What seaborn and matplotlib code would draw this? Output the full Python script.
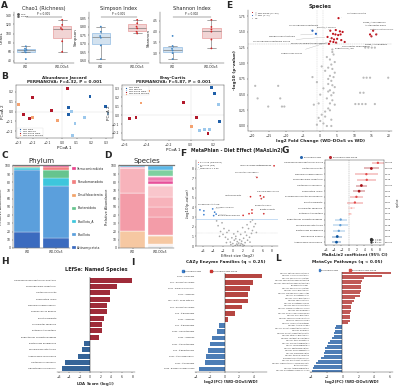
import numpy as np
import pandas as pd
import matplotlib
matplotlib.use("Agg")
import matplotlib.pyplot as plt
from matplotlib.lines import Line2D
from matplotlib.patches import Patch
import seaborn as sns

# ------------------------------------------------------------------ DATA
groups = ["WD", "WD-DOx5"]
chao1_wd = [44, 58.7, 62, 64, 66.7, 72]
chao1_dox = [60, 83, 109, 112, 119, 130]
simpson_wd = [0.61, 0.69, 0.735, 0.745, 0.77, 0.80]
simpson_dox = [0.76, 0.77, 0.79, 0.80, 0.82, 0.84]
shannon_wd = [2.72, 3.0, 3.12, 3.2, 3.33, 3.8]
shannon_dox = [3.22, 3.63, 4.0, 4.1, 4.22, 4.55]

pcoa_groups = ["WD Male", "WD Female", "WD-DOx5 Male", "WD-DOx5 Female"]
jac_group = ["WD-DOx5 Male"]*5 + ["WD-DOx5 Female"]*3 + ["WD Male"]*4 + ["WD Female"]*5
jac_pc1 = [-0.20, -0.262, -0.222, -0.073, 0.038, -0.296, -0.20, -0.029,
           0.193, 0.044, 0.298, 0.044, 0.067, 0.089, 0.156, 0.071, 0.316]
jac_pc2 = [0.143, -0.033, -0.067, 0.007, 0.233, 0.073, -0.06, -0.087,
           0.15, 0.043, 0.05, -0.027, 0.0, -0.117, -0.06, -0.243, -0.023]
bc_group = ["WD-DOx5 Female", "WD-DOx5 Male", "WD-DOx5 Female", "WD-DOx5 Male", "WD-DOx5 Male",
            "WD-DOx5 Male", "WD-DOx5 Female", "WD Female", "WD-DOx5 Male",
            "WD Male", "WD Male", "WD Female", "WD Male", "WD Female", "WD Female"]
bc_pc1 = [-0.384, -0.065, -0.449, -0.552, -0.493, 0.053, 0.009, 0.082, 0.156,
          0.186, 0.215, 0.253, 0.259, 0.127, 0.171]
bc_pc2 = [0.272, 0.14, 0.137, -0.04, -0.025, -0.025, -0.132, -0.169, -0.204,
          0.309, 0.247, 0.118, -0.068, -0.158, -0.158]

phyla = ["Actinomycetota", "Bacillota", "Bacillota_A", "Bacteroidota",
         "Desulfobacterota", "Pseudomonadota", "Verrucomicrobiota"]
phylum_wd = [19, 76, 2.5, 0.8, 0.2, 0.8, 0.7]
phylum_dox = [12, 63, 10, 10, 0.5, 2.5, 2]

species_d = ["Other", "Unclassified", "Dubosiella newyorkensis", "Romboutsia ilealis",
             "Faecalibaculum rodentium", "Lactococcus lactis", "Turicibacter sanguinis",
             "Ligilactobacillus murinus", "Blautia producta", "Akkermansia muciniphila",
             "Enterocloster bolteae", "Ruminococcus gnavus", "Muribaculum intestinale",
             "Lachnospiraceae bacterium"]
species_wd = [0, 0, 21, 0, 46, 0, 30, 0, 0, 1.5, 0, 0, 0, 1.5]
species_dox = [3, 2, 9, 2, 22, 12, 12, 14, 2, 4, 4, 2, 7, 5]

vol_up_x = [5.4, 3.0, 4.6, 5.8, 6.6, 3.8, 4.5, 5.3, 6.0, 2.2, 3.4, 4.1, 5.0, 6.2, 3.0, 3.9,
            4.7, 7.2, 2.6, 15.5, 14.6, 16.4, 15.0]
vol_up_y = [1.72, 1.52, 1.53, 1.51, 1.50, 1.47, 1.46, 1.45, 1.46, 1.42, 1.40, 1.38, 1.39,
            1.37, 1.35, 1.34, 1.33, 1.34, 1.31, 1.52, 1.46, 1.46, 1.43]
vol_dn_x = [-2.2, -1.2]
vol_dn_y = [1.52, 1.47]
vol_ns_x = [-18.9, -12.2, -18.2, -11.6, -15.1, -11.1, -10.4, -2.2, 19.9, 12.7, 13.6, 14.6,
            11.7, 12.7, 10.3, 11.3, 12.3, 13.3, 16.0, 13.2, 14.1, 15.1, 16.0,
            3.6, 3.95, 2.9, 3.3, 2.4, 3.6, 4.3, 2.9, 3.95, 3.3, 2.4, 3.6, 4.3, 2.9, 3.95, 3.3,
            2.0, 3.6, 2.9, 4.3, -1.8, -0.4, 2.4, 1.5, 0.5, -0.4, 0.07, 1.0, 2.0, 3.3, -0.9,
            1.0, 2.4, 0.5, 1.5, 3.6, 2.0, 4.3, 0.07, 2.9, 1.5, -0.9, 3.3, 2.4]
vol_ns_y = [0.64, 0.64, 0.44, 0.44, 0.31, 0.31, 0.31, 0.78, 0.77, 0.77, 0.77, 0.77,
            0.53, 0.53, 0.35, 0.35, 0.35, 0.35, 0.35, 1.25, 1.25, 1.25, 1.25,
            1.22, 1.14, 1.06, 0.98, 0.93, 0.91, 0.85, 0.80, 0.78, 0.72, 0.67, 0.65, 0.62, 0.57,
            0.53, 0.49, 0.44, 0.41, 0.36, 0.34, 0.34, 0.36, 0.28, 0.23, 0.18, 0.13, 0.08, 0.04,
            0.0, 0.0, 0.02, 0.6, 0.75, 0.95, 0.88, 1.18, 1.1, 1.02, 0.5, 0.25, 0.15, 0.7,
            0.1, 0.55]

f_up_x = [8.4, 4.9, 3.6, 5.6, 6.3, 5.8, 3.9, 3.9, 3.3, 2.1, 6.3]
f_up_y = [8.3, 7.1, 5.1, 5.2, 5.07, 4.9, 3.74, 3.4, 3.34, 3.17, 3.34]
f_dn_x = [-6.7, -5.9, -3.7, -3.9, -4.1, -3.4, -5.9]
f_dn_y = [3.74, 3.64, 3.5, 3.14, 3.84, 3.3, 3.24]
f_ns_x = [0.5, 1, 1.5, 0.8, 1.2, 2, 0, -0.5, 2.5, 1.8, 0.3, -1, 3, 2.2, -1.5, 3.4, 0.9, 1.4,
          -0.2, 2.8, -2, 3.8, -1.2, 2.5, 4, -2.5, 0.6, 1.6, 3.2, -1.8, 4.3, -3, 2.9, -2.2, 3.6,
          4.6, -0.8, 1.0, -3.3, 4.0, 2.0, 0.2, -0.4, 1.7, 2.3, -1.3, 3.5, 0.6, -2.7, 4.8]
f_ns_y = [0.05, 0.1, 0.08, 0.2, 0.3, 0.15, 0.25, 0.4, 0.35, 0.5, 0.6, 0.7, 0.6, 0.8, 0.9, 0.9,
          0.45, 0.65, 0.85, 1.1, 1.2, 1.3, 1.4, 1.45, 1.6, 1.5, 1.0, 1.2, 1.8, 1.8, 2.0, 2.1,
          2.2, 2.4, 2.5, 2.3, 1.6, 1.5, 2.6, 2.7, 1.9, 1.25, 0.15, 0.25, 0.05, 0.35, 0.4, 0.75,
          1.0, 1.4]

g_species = ["Lachnospiraceae bacterium NSJ-29", "Lactococcus lactis", "Dubosiella newyorkensis",
             "Faecalibaculum rodentium", "Lactobacillus johnsonii", "Romboutsia ilealis",
             "Pseudoflavonifractor phocaeensis", "Blautia producta", "Turicibacter sanguinis",
             "Enterocloster bolteae", "Eubacterium coprostanoligenes", "Muribaculum intestinale",
             "Bacteroides acidifaciens", "Duncaniella dubosii", "Akkermansia muciniphila"]
g_coef = [7.5, 5.8, 4.5, 4.6, 3.2, 2.6, 1.9, 1.5, 0.6, 0.2, -2.2, -2.3, -2.7, -3.1, -3.3]
g_ci = [1.5, 2.0, 3.0, 2.5, 1.5, 1.5, 1.8, 2.0, 1.0, 0.6, 1.6, 2.0, 1.5, 1.3, 1.2]
g_qval = [0.08, 0.03, 0.10, 0.12, 0.01, 0.04, 0.09, 0.15, 0.30, 0.45, 0.14, 0.20, 0.06, 0.02, 0.01]
g_ptext = ["2.1e-03", "5.3e-04", "0.012", "0.018", "1.0e-04", "0.004", "0.010", "0.031",
           "0.210", "0.420", "0.025", "0.048", "0.006", "0.002", "8.0e-04"]

h_species = ["Lachnospiraceae bacterium NK4A136", "Faecalibaculum rodentium", "Lactococcus lactis",
             "Romboutsia ilealis", "Dubosiella newyorkensis", "Ruminococcus gnavus",
             "Blautia producta", "Turicibacter sanguinis", "Enterocloster bolteae",
             "Eubacterium coprostanoligenes", "Bacteroides acidifaciens", "Muribaculum intestinale",
             "Akkermansia muciniphila", "Lactobacillus johnsonii", "Ligilactobacillus murinus"]
h_lda = [7.9, 5.0, 3.8, 3.7, 3.1, 3.1, 2.6, 2.3, 2.3, 1.7, -1.1, -1.5, -2.3, -4.8, -5.4]

i_families = ["GH13 - α-amylase", "GT2 - glycosyltransferase", "GT51 - murein polymerase",
              "GH73 - lysozyme", "CE1 - acetyl xylan esterase", "GT4 - glycosyltransferase",
              "GH3 - β-glucosidase", "GH23 - lysozyme", "GH1 - β-glucosidase",
              "GH36 - α-galactosidase", "GH25 - lysozyme", "GH42 - β-galactosidase",
              "GH2 - β-galactosidase", "GH20 - β-hexosaminidase", "GH43 - β-xylosidase",
              "GT35 - glycogen phosphorylase"]
i_lfc = [5.2, 4.0, 3.5, 3.2, 3.2, 2.4, 1.4, 0.45, -0.8, -1.0, -1.8, -2.0, -2.3, -2.6, -2.7, -3.5]

l_pathways = ["PWY-6471: peptidoglycan biosynthesis IV", "PWY-5103: L-isoleucine biosynthesis III",
              "PWY-7219: adenosine ribonucleotides", "PWY-6386: UDP-N-acetylmuramoyl-pentapeptide",
              "PWY-6387: UDP-N-acetylmuramoyl-pentapeptide II", "PEPTIDOGLYCANSYN-PWY",
              "PWY-7221: guanosine ribonucleotides", "PWY-5097: L-lysine biosynthesis VI",
              "PWY-6122: 5-aminoimidazole ribonucleotide", "PWY-6277: superpathway of AIR",
              "PWY-2942: L-lysine biosynthesis III", "PWY-5686: UMP biosynthesis I",
              "PWY-7229: superpathway of purine", "PWY-6700: queuosine biosynthesis I",
              "PWY-6151: S-adenosyl-L-methionine salvage", "PWY-6609: adenine salvage III",
              "PWY-7199: pyrimidine deoxyribonucleosides", "PWY-6703: preQ0 biosynthesis",
              "PWY-5667: CDP-diacylglycerol biosynthesis", "PWY0-1319: CDP-diacylglycerol II",
              "PWY-5973: cis-vaccenate biosynthesis", "PWY-6897: thiamine salvage II",
              "PWY-7111: pyruvate fermentation to isobutanol", "PWY-1042: glycolysis IV",
              "PWY-5100: pyruvate fermentation to acetate", "PWY-6305: putrescine biosynthesis IV",
              "PWY-5505: L-glutamate and L-glutamine", "PWY-6737: starch degradation V",
              "PWY-7237: myo-inositol degradation III", "PWY-621: sucrose degradation III",
              "PWY-6317: galactose degradation I", "PWY-5384: sucrose degradation IV",
              "PWY-7456: mannan degradation", "PWY-6527: stachyose degradation",
              "GLUCUROCAT-PWY: β-D-glucuronide", "PWY-7242: D-fructuronate degradation",
              "PWY-6507: 4-deoxy-L-threo-hex-4-enopyranuronate", "GALACTUROCAT-PWY",
              "PWY-2723: trehalose degradation V", "PWY-7345: superpathway of anaerobic sucrose"]
l_lfc = [6.2, 5.0, 2.75, 2.5, 2.4, 2.4, 2.3, 2.3, 2.2, 2.2, 1.6, 1.5, 1.2, 1.1, 1.1, 1.05,
         1.0, 1.0, 0.9, 0.9, 0.7,
         -0.8, -0.9, -1.0, -1.1, -1.1, -1.3, -1.6, -1.8, -1.9, -2.2, -2.2, -2.3, -2.3, -2.7,
         -3.1, -3.3, -3.6, -3.7, -3.9]

# ------------------------------------------------------------------ STYLE
W, H = 400, 387
sns.set_theme(style="ticks")
plt.rcParams['font.family'] = ['DejaVu Sans']
plt.rcParams.update({
    'font.size': 2.4, 'axes.labelsize': 3.0, 'axes.titlesize': 3.8,
    'xtick.labelsize': 2.2, 'ytick.labelsize': 2.2, 'legend.fontsize': 2.0,
    'axes.linewidth': 0.3, 'xtick.major.width': 0.3, 'ytick.major.width': 0.3,
    'xtick.major.size': 1.0, 'ytick.major.size': 1.0,
    'xtick.major.pad': 0.8, 'ytick.major.pad': 0.8, 'axes.labelpad': 1.0,
    'axes.titlepad': 1.5, 'axes.edgecolor': '#333333', 'lines.linewidth': 0.4,
})

C_WD_FILL, C_DOX_FILL = "#cfe2f3", "#f6cfcf"
C_WD_EDGE, C_DOX_EDGE = "#7fb0e0", "#e58a8a"
C_WD_PT, C_DOX_PT = "#3d85c6", "#d62728"

fig = plt.figure(figsize=(W / 100, H / 100), dpi=100)
fig.patch.set_facecolor("white")


def add(x0, y0, x1, y1):
    return fig.add_axes([x0 / W, 1 - y1 / H, (x1 - x0) / W, (y1 - y0) / H])


def letter(x, y, s):
    fig.text(x / W, 1 - y / H, s, fontsize=6.5, fontweight='bold', va='top', ha='left')


# ------------------------------------------------------------------ A
def alpha_panel(ax, wd, dox, title, ylab, ptxt):
    df = pd.DataFrame({'group': [groups[0]] * len(wd) + [groups[1]] * len(dox),
                       'val': wd + dox})
    sns.boxplot(data=df, x='group', y='val', hue='group', palette=[C_WD_FILL, C_DOX_FILL],
                width=0.5, showfliers=False, linewidth=0.4, linecolor="#666666",
                legend=False, ax=ax)
    for patch, ec in zip(ax.patches, [C_WD_EDGE, C_DOX_EDGE]):
        patch.set_edgecolor(ec)
    sns.swarmplot(data=df, x='group', y='val', hue='group', palette=[C_WD_PT, C_DOX_PT],
                  size=1.3, legend=False, ax=ax)
    lo, hi = min(wd + dox), max(wd + dox)
    rng = hi - lo
    yb = hi + rng * 0.08
    ax.plot([0, 0, 1, 1], [yb - rng * 0.02, yb, yb, yb - rng * 0.02], color="#333333", lw=0.3)
    ax.text(0.5, yb + rng * 0.02, ptxt, ha='center', va='bottom', fontsize=2.0)
    ax.set_ylim(lo - rng * 0.1, hi + rng * 0.2)
    ax.set_title(title, fontsize=3.6)
    ax.set_xlabel("")
    ax.set_ylabel(ylab, fontsize=3.0)
    sns.despine(ax=ax)


axA1 = add(14, 12, 74, 63)
alpha_panel(axA1, chao1_wd, chao1_dox, "Chao1 (Richness)", "Chao1", "P < 0.001")
axA1.legend(handles=[Line2D([], [], marker='o', ls='', color='#555555', ms=1.0, label='Male'),
                     Line2D([], [], marker='^', ls='', color='#555555', ms=1.0, label='Female')],
            loc='upper left', frameon=False, fontsize=1.6, handletextpad=0.2, borderpad=0.2,
            labelspacing=0.2)
axA2 = add(89, 12, 149, 63)
alpha_panel(axA2, simpson_wd, simpson_dox, "Simpson Index", "Simpson", "P < 0.001")
axA3 = add(160, 12, 224, 63)
alpha_panel(axA3, shannon_wd, shannon_dox, "Shannon Index", "Shannon", "P = 0.002")

# ------------------------------------------------------------------ B
pal_b = {"WD Male": "#1f5fa8", "WD Female": "#9cc8ec", "WD-DOx5 Male": "#b2182b",
         "WD-DOx5 Female": "#f4a270"}


def pcoa_panel(ax, g, x, y, title, sub, legloc):
    df = pd.DataFrame({'PCoA 1': x, 'PCoA 2': y, 'group': g})
    ax.axhline(0, color="#dddddd", lw=0.3, zorder=0)
    ax.axvline(0, color="#dddddd", lw=0.3, zorder=0)
    sns.scatterplot(data=df, x='PCoA 1', y='PCoA 2', hue='group', hue_order=pcoa_groups,
                    palette=pal_b, s=4, marker='s', edgecolor='none', ax=ax)
    ax.legend(loc=legloc, fontsize=1.6, frameon=True, framealpha=0.9, edgecolor='#cccccc',
              markerscale=0.4, handletextpad=0.2, borderpad=0.3, labelspacing=0.2)
    ax.legend_.get_frame().set_linewidth(0.2)
    ax.set_title(title + "\n" + sub, fontsize=3.0, fontweight='bold', linespacing=1.1)
    ax.set_xlabel("PCoA 1", fontsize=3.0)
    ax.set_ylabel("PCoA 2", fontsize=3.0)


axB1 = add(16, 85, 113, 138)
pcoa_panel(axB1, jac_group, jac_pc1, jac_pc2, "Abundance Jaccard",
           "PERMANOVA: F=4.32, P = 0.001", 'lower left')
axB1.set_xlim(-0.315, 0.35)
axB1.set_ylim(-0.267, 0.267)
axB2 = add(122, 85, 224, 140)
pcoa_panel(axB2, bc_group, bc_pc1, bc_pc2, "Bray-Curtis",
           "PERMANOVA: F=5.87, P = 0.001", 'upper left')
axB2.set_xlim(-0.62, 0.3)
axB2.set_ylim(-0.28, 0.34)


def stacked_style(ax, title):
    ax.set_xlim(-0.5, 1.5)
    ax.set_ylim(0, 101)
    ax.set_xticks([0, 1], groups)
    ax.set_yticks(range(0, 101, 10))
    ax.set_ylabel("Relative Abundance", fontsize=2.6)
    ax.set_title(title, fontsize=5.0, pad=1.5)
    sns.despine(ax=ax, right=True, top=False)
    ax.spines['top'].set_color('#777777')
    ax.spines['top'].set_linewidth(0.9)


# ------------------------------------------------------------------ C
phylum_colors = ["#3b6bbf", "#5b9fdc", "#3ec6dc", "#66c48e", "#f2a46a", "#f28080", "#e8458e"]
axC = add(13, 165, 70, 248)
bottoms = np.zeros(2)
for name, a, b, col in zip(phyla, phylum_wd, phylum_dox, phylum_colors):
    axC.bar([0, 1], [a, b], bottom=bottoms, color=col, width=0.92, edgecolor='white',
            linewidth=0.2, label=name)
    bottoms += np.array([a, b])
stacked_style(axC, "Phylum")
hC, lC = axC.get_legend_handles_labels()
axC.legend(hC[::-1], lC[::-1], loc='upper left', bbox_to_anchor=(1.0, 1.0), frameon=False,
           fontsize=2.2, handlelength=1.2, handleheight=1.2, labelspacing=3.0,
           handletextpad=0.6, borderaxespad=0.2)

# ------------------------------------------------------------------ D
species_colors = ["#e9ecef", "#fdf1ee", "#f6c8a2", "#fde4e4", "#f39ca8", "#f5a7b1",
                  "#f7b3bb", "#f9c6cc", "#fde8ea", "#e7509a", "#f07cb0", "#fbd9e2",
                  "#7fd0a0", "#5cb8e8"]
axD = add(119, 165, 174, 248)
bottoms = np.zeros(2)
for name, a, b, col in zip(species_d, species_wd, species_dox, species_colors):
    axD.bar([0, 1], [a, b], bottom=bottoms, color=col, width=0.92, edgecolor='white',
            linewidth=0.25, label=name)
    bottoms += np.array([a, b])
stacked_style(axD, "Species")

# ------------------------------------------------------------------ E
axE = add(248, 10, 392, 131)
lab_up = f'↑ WD-DOx5 (n={len(vol_up_x)})'
lab_dn = f'↑ WD (n={len(vol_dn_x)})'
dfE = pd.DataFrame({
    'x': vol_ns_x + vol_up_x + vol_dn_x,
    'y': vol_ns_y + vol_up_y + vol_dn_y,
    'cls': ['NS'] * len(vol_ns_x) + [lab_up] * len(vol_up_x) + [lab_dn] * len(vol_dn_x)})
palE = {lab_up: "#c0121c", lab_dn: "#1f5fbf", 'NS': "#bbbbbb"}
axE.axhline(1.301, color="#bbbbbb", lw=0.3, ls='--', zorder=0)
axE.axvline(-1, color="#cccccc", lw=0.3, ls='--', zorder=0)
axE.axvline(1, color="#cccccc", lw=0.3, ls='--', zorder=0)
sns.scatterplot(data=dfE, x='x', y='y', hue='cls',
                hue_order=list(palE.keys()), palette=palE, s=2.5, edgecolor='none', ax=axE)
axE.legend(loc='upper left', frameon=False, fontsize=1.7, markerscale=0.5,
           handletextpad=0.2, labelspacing=0.2, borderpad=0.2)
axE.set_xlim(-21, 21)
axE.set_ylim(-0.08, 1.85)
axE.set_xticks(range(-20, 21, 5))
axE.set_yticks([0, 0.25, 0.5, 0.75, 1.0, 1.25, 1.5, 1.75])
axE.set_yticklabels(["0.00", "0.25", "0.50", "0.75", "1.00", "1.25", "1.50", "1.75"])
axE.set_xlabel("log2 Fold Change (WD-DOx5 vs WD)", fontsize=3.2, fontweight='bold')
axE.set_ylabel("-log10 (p-value)", fontsize=3.2, fontweight='bold')
axE.set_title("Species", fontsize=3.8, fontweight='bold')
e_labels = [("Lactococcus lactis", 5.4, 1.72, 8.0, 1.80),
            ("Lachnospiraceae bacterium", -2.2, 1.52, -9.0, 1.60),
            ("Muribaculum intestinale", -1.2, 1.47, -15.0, 1.43),
            ("Blautia_A schinkii", 3.0, 1.52, -1.0, 1.57),
            ("Lachnospiraceae bacterium NSJ-38", 2.2, 1.42, -19.5, 1.35),
            ("Pseudoflavonifractor phocaeensis", 3.4, 1.40, -8.5, 1.32),
            ("Eubacterium_J sp.", 4.7, 1.33, 4.5, 1.25),
            ("Coprococcus comes", 3.0, 1.35, -11.5, 1.15),
            ("Oscillibacter valericigenes", 7.2, 1.34, 6.5, 1.27),
            ("Dorea_A phocaeensis", 15.5, 1.52, 12.5, 1.66),
            ("Acutalibacter muris", 14.6, 1.46, 13.0, 1.60),
            ("Lachnoclostridium sp.", 16.4, 1.46, 14.5, 1.54),
            ("Dorea_A longicatena", 15.0, 1.43, 13.0, 1.31)]
for name, px, py, tx, ty in e_labels:
    axE.annotate(name, xy=(px, py), xytext=(tx, ty), fontsize=1.5, ha='left', va='center',
                 arrowprops=dict(arrowstyle='-', color='#999999', lw=0.2))
sns.despine(ax=axE)

# ------------------------------------------------------------------ F
axF = add(196, 160, 278, 246)
dfF = pd.DataFrame({
    'x': f_ns_x + f_up_x + f_dn_x, 'y': f_ns_y + f_up_y + f_dn_y,
    'cls': ['n.s.'] * len(f_ns_x) + ['q < 0.25 (WD-DOx5)'] * len(f_up_x)
           + ['q < 0.25 (WD)'] * len(f_dn_x)})
palF = {'q < 0.25 (WD-DOx5)': "#d62728", 'q < 0.25 (WD)': "#3b7fd0", 'n.s.': "#aaaaaa"}
axF.axhline(2.84, color="#9cc3ea", lw=0.4, ls='-', zorder=0)
axF.axhline(1.301, color="#bbbbbb", lw=0.3, ls=':', zorder=0)
sns.scatterplot(data=dfF, x='x', y='y', hue='cls', hue_order=list(palF.keys()), palette=palF,
                s=1.5, edgecolor='none', ax=axF)
hF, lF = axF.get_legend_handles_labels()
hF.append(Line2D([], [], color="#bbbbbb", ls=':', lw=0.4))
lF.append("Nominal p < 0.05")
axF.legend(hF, lF, loc='upper left', frameon=False, fontsize=1.5, markerscale=0.5,
           handletextpad=0.2, labelspacing=0.15, borderpad=0.2, handlelength=1.0)
axF.set_xlim(-7.5, 9.2)
axF.set_ylim(0, 8.9)
axF.set_xticks(range(-6, 9, 2))
axF.set_yticks(range(0, 9))
axF.set_xlabel("Effect size (log2)", fontsize=2.8)
axF.set_ylabel("-log10(p-value)", fontsize=2.8)
axF.set_title("MetaPhlan - Diet Effect (MaAsLin2)", fontsize=3.3, fontweight='bold', pad=6)
f_labels = [("Lachnospiraceae bacterium NSJ-29", 8.4, 8.3, 1.5, 8.3),
            ("Oscillibacter valericigenes", 4.9, 7.1, 0.5, 7.6),
            ("Lactococcus lactis", 3.6, 5.1, -1.5, 5.2),
            ("Dubosiella newyorkensis", 5.8, 4.9, 5.0, 5.6),
            ("Romboutsia ilealis", 3.9, 3.74, 4.5, 4.2),
            ("Blautia producta", 6.3, 3.34, 5.5, 3.8),
            ("Muribaculum intestinale", -6.7, 3.74, -7.0, 4.3),
            ("Duncaniella dubosii", -4.1, 3.84, -3.5, 4.0),
            ("Bacteroides acidifaciens", -3.4, 3.3, -3.0, 3.2)]
for name, px, py, tx, ty in f_labels:
    axF.annotate(name, xy=(px, py), xytext=(tx, ty), fontsize=1.3, ha='left', va='center',
                 arrowprops=dict(arrowstyle='-', color='#aaaaaa', lw=0.2))
sns.despine(ax=axF)

# ------------------------------------------------------------------ G
axG = add(325, 160, 384, 245)
rows = np.arange(len(g_species))


def g_color(c, q):
    if c > 0:
        return "#a50f15" if q < 0.05 else ("#e34a4a" if q < 0.25 else "#f7b2ae")
    return "#08519c" if q < 0.05 else ("#5c9bd5" if q < 0.25 else "#bcd6ee")


g_cols = [g_color(c, q) for c, q in zip(g_coef, g_qval)]
axG.axvline(0, color="#999999", lw=0.3, ls='--', zorder=0)
axG.hlines(rows, np.array(g_coef) - np.array(g_ci), np.array(g_coef) + np.array(g_ci),
           colors=g_cols, lw=1.2, alpha=0.35)
dfG = pd.DataFrame({'coef': g_coef, 'row': rows, 'col': g_species,
                    'size': [3.5 if q < 0.05 else (2.5 if q < 0.25 else 1.5) for q in g_qval]})
sns.scatterplot(data=dfG, x='coef', y='row', hue='col', palette=dict(zip(g_species, g_cols)),
                size='size', sizes=(1.5, 4), legend=False, edgecolor='none', ax=axG)
axG.set_yticks(rows, g_species, fontsize=1.6)
axG.set_ylim(len(rows) - 0.5, -0.5)
axG.set_xlim(-6.3, 9.1)
axG.set_xticks(range(-6, 9, 2))
axG.set_xlabel("MaAsLin2 coefficient (95% CI)", fontsize=2.8, fontweight='bold')
axG.set_ylabel("")
for r, t in zip(rows, g_ptext):
    axG.text(1.02, r, t, transform=axG.get_yaxis_transform(), fontsize=1.5, va='center')
axG.text(1.2, 0.5, "q-value", transform=axG.transAxes, rotation=90, fontsize=1.8, va='center')
axG.legend(handles=[Line2D([], [], marker='o', ls='', color="#2a68b0", ms=1.2, label='Enriched in WD'),
                    Line2D([], [], marker='o', ls='', color="#b8262f", ms=1.2,
                           label='Enriched in WD-DOx5')],
           loc='lower center', bbox_to_anchor=(0.05, 1.01), ncol=2, frameon=False,
           fontsize=1.6, handletextpad=0.2, columnspacing=3.0, borderpad=0.1)
size_leg = [Line2D([], [], marker='o', ls='', color='#333333', ms=m, label=t)
            for m, t in [(1.3, "q < 0.05"), (1.0, "q < 0.25"), (0.7, "q ≥ 0.25")]]
fig.legend(handles=size_leg, loc='lower right', bbox_to_anchor=(383 / W, 1 - 244 / H),
           frameon=False, fontsize=1.4, handletextpad=0.2, labelspacing=0.1, borderpad=0.1)


# ------------------------------------------------------------------ H / I / L
def bar_panel(ax, names, vals, title, xlabel, c_pos, c_neg, xlim, xticks, ylab_fs):
    df = pd.DataFrame({'name': names, 'val': vals,
                       'dir': ['pos' if v > 0 else 'neg' for v in vals]})
    sns.barplot(data=df, x='val', y='name', hue='dir', palette={'pos': c_pos, 'neg': c_neg},
                orient='h', dodge=False, width=0.75, legend=False, ax=ax,
                edgecolor='none')
    ax.axvline(0, color='#222222', lw=0.35)
    ax.set_xlim(*xlim)
    ax.set_xticks(xticks)
    ax.set_ylabel("")
    ax.set_xlabel(xlabel, fontsize=2.8, fontweight='bold')
    ax.tick_params(axis='y', length=0, labelsize=ylab_fs)
    if title:
        ax.set_title(title, fontsize=3.6, fontweight='bold', pad=4)
    sns.despine(ax=ax, left=True)


axH = add(57, 277, 135, 372)
bar_panel(axH, h_species, h_lda, "LEfSe: Named Species", "LDA Score (log$_{10}$)",
          "#b2182b", "#2563a8", (-6.3, 8.5), range(-6, 9, 2), 1.6)

axI = add(195, 273, 267, 372)
bar_panel(axI, i_families, i_lfc, "", "log2(FC) [WD-DOx5/WD]",
          "#c9342f", "#3a7bc8", (-4.1, 5.9), range(-4, 5, 2), 1.4)
fig.text(226 / W, 1 - 262 / H, "CAZy Enzyme Families (q < 0.25)", fontsize=3.1,
         fontweight='bold', ha='center', va='center')
axI.legend(handles=[Patch(color="#3a7bc8", label="Enriched in WD"),
                    Patch(color="#c9342f", label="Enriched in WD-DOx5")],
           loc='lower center', bbox_to_anchor=(0.2, 1.0), ncol=2, frameon=False,
           fontsize=1.6, handlelength=0.8, handleheight=0.8, handletextpad=0.3,
           columnspacing=4.0, borderpad=0.1)

axL = add(310, 272, 393, 372)
bar_panel(axL, l_pathways, l_lfc, "", "log2(FC) [WD-DOx5/WD]",
          "#d24a45", "#3d7cc6", (-4.1, 6.4), range(-4, 7, 2), 1.0)
fig.text(347 / W, 1 - 262 / H, "MetaCyc Pathways (q < 0.05)", fontsize=3.1,
         fontweight='bold', ha='center', va='center')
axL.legend(handles=[Patch(color="#3d7cc6", label="Enriched in WD"),
                    Patch(color="#d24a45", label="Enriched in WD-DOx5")],
           loc='lower center', bbox_to_anchor=(0.45, 1.0), ncol=2, frameon=False,
           fontsize=1.6, handlelength=0.8, handleheight=0.8, handletextpad=0.3,
           columnspacing=5.0, borderpad=0.1)

# ------------------------------------------------------------------ letters
letter(1, 1, "A")
letter(1, 72, "B")
letter(1, 151, "C")
letter(104, 151, "D")
letter(226, 1, "E")
letter(180, 149, "F")
letter(282, 146, "G")
letter(1, 257, "H")
letter(131, 258, "I")
letter(275, 254, "L")

fig.savefig("out.png", dpi=100, facecolor="white")
